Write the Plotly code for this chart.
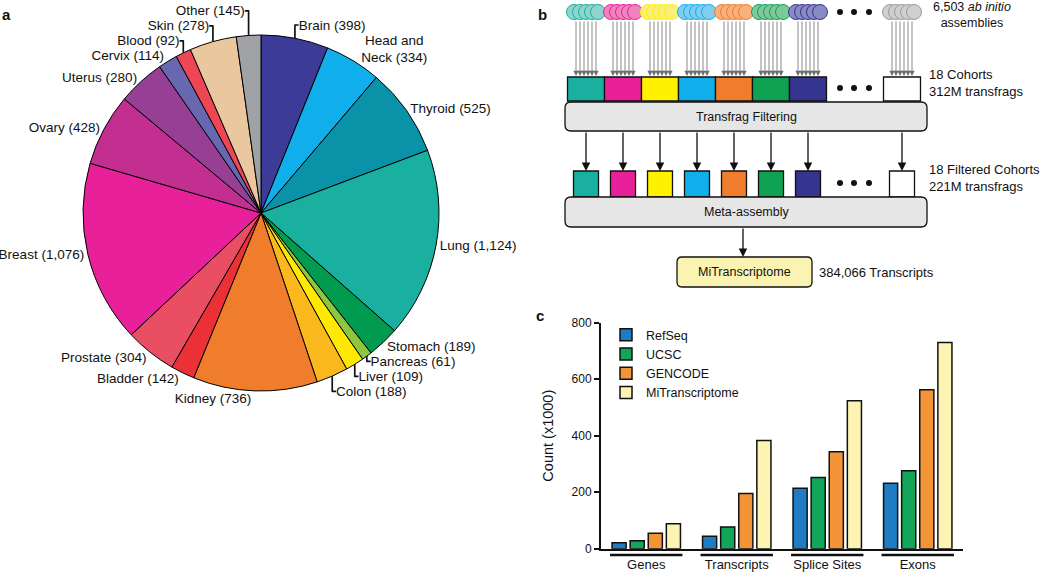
import plotly.graph_objects as go

W, H = 1050, 572
FONT = "Liberation Sans, Arial, sans-serif"

# ---- panel a: assemblies per tissue ----
tissues = ['Brain', 'Head and<br>Neck', 'Thyroid', 'Lung', 'Stomach', 'Pancreas', 'Liver',
           'Colon', 'Kidney', 'Bladder', 'Prostate', 'Breast', 'Ovary', 'Uterus', 'Cervix',
           'Blood', 'Skin', 'Other']
tissue_counts = [398, 334, 525, 1124, 189, 61, 109, 188, 736, 142, 304, 1076, 428, 280, 114,
                 92, 278, 145]
tissue_colors = ['#3c3c98', '#10aeea', '#0a93a8', '#1ab0a0', '#009b4e', '#8dc63f', '#ffe900',
                 '#fbb81c', '#f07d2c', '#ec3136', '#ea4e63', '#e8219a', '#c22f90', '#963f95',
                 '#6868b0', '#ee4654', '#ebc79f', '#a0a2a5']

# ---- panel b: cohort colours ----
cohort_colors = ['#1ab0a0', '#e8219a', '#fff100', '#10aeea', '#f07d2c', '#0fa253', '#35358f']
cohort_circle = ['#8fd5cb', '#ee83bd', '#f9f07a', '#7fcdf0', '#f7b07e', '#7fc89c', '#8a8ac2']

# ---- panel c: annotation counts (x1000) ----
categories = ['Genes', 'Transcripts', 'Splice Sites', 'Exons']
refseq = [21, 44, 214, 232]
ucsc = [28, 77, 252, 276]
gencode = [55, 195, 343, 563]
mitranscriptome = [88, 383, 524, 730]
bar_series = [('RefSeq', refseq, '#1e7cc4'), ('UCSC', ucsc, '#13a55a'),
              ('GENCODE', gencode, '#f39437'), ('MiTranscriptome', mitranscriptome, '#fdf4b4')]


def px(x):
    return x / W


def py(y):
    return 1 - y / H


fig = go.Figure()

# pie (centre ~ (261, 213), radius ~178 px)
cx, cy, r = 261, 213, 178
fig.add_trace(go.Pie(
    labels=tissues, values=tissue_counts,
    text=[f"{t} ({c:,})" for t, c in zip(tissues, tissue_counts)],
    textinfo='text', textposition='outside', sort=False, direction='clockwise', rotation=0,
    marker=dict(colors=tissue_colors, line=dict(color='black', width=1)),
    outsidetextfont=dict(family=FONT, size=13.5, color='#111'),
    domain=dict(x=[px(cx - r), px(cx + r)], y=[py(cy + r), py(cy - r)]),
    showlegend=False, hoverinfo='label+value',
))

# bars
for name, vals, col in bar_series:
    fig.add_trace(go.Bar(
        x=categories, y=vals, name=name,
        marker=dict(color=col, line=dict(color='#111', width=1.5)),
    ))

shapes = []
annotations = []

# category underlines
for i in range(len(categories)):
    shapes.append(dict(type='line', xref='x', yref='paper', x0=i - 0.4, x1=i + 0.4,
                       y0=py(555), y1=py(555), line=dict(color='#111', width=2.5)))

# ---- panel b diagram ----
centers = [586 + 37 * i for i in range(len(cohort_colors))]
white_c = 902


def rrect(x0, y0, x1, y1, rad):
    pts = [('M', x0 + rad, y0), ('L', x1 - rad, y0), ('Q', x1, y0, x1, y0 + rad),
           ('L', x1, y1 - rad), ('Q', x1, y1, x1 - rad, y1), ('L', x0 + rad, y1),
           ('Q', x0, y1, x0, y1 - rad), ('L', x0, y0 + rad), ('Q', x0, y0, x0 + rad, y0)]
    out = ''
    for p in pts:
        coords = p[1:]
        seg = ' '.join(f"{px(coords[k]):.5f},{py(coords[k + 1]):.5f}" for k in range(0, len(coords), 2))
        out += f"{p[0]}{seg} "
    return out + 'Z'


def circle(x, y, rad, fill, line, lw=1):
    shapes.append(dict(type='circle', xref='paper', yref='paper',
                       x0=px(x - rad), x1=px(x + rad), y0=py(y + rad), y1=py(y - rad),
                       fillcolor=fill, line=dict(color=line, width=lw)))


def rect(x0, y0, x1, y1, fill, lw=1.3):
    shapes.append(dict(type='rect', xref='paper', yref='paper', x0=px(x0), x1=px(x1),
                       y0=py(y1), y1=py(y0), fillcolor=fill, line=dict(color='#111', width=lw)))


def arrow(x, y_from, y_to, color, width, size):
    # tail sits above the head, so ay is negative
    annotations.append(dict(x=px(x), y=py(y_to), xref='paper', yref='paper', ax=0,
                            ay=y_from - y_to, axref='pixel', ayref='pixel', text='',
                            showarrow=True, arrowhead=2, arrowsize=size, arrowwidth=width,
                            arrowcolor=color, standoff=0))


groups = list(zip(centers, cohort_circle, cohort_colors)) + [(white_c, '#cfcfcf', '#9a9a9a')]
for c, fill, line in groups:
    for k in range(5):
        circle(c - 12 + 6 * k, 12, 7.5, fill, line, 1)
    for k in range(6):
        arrow(c - 10 + 4 * k, 20, 76, '#6d6d6d', 0.8, 1.3)

for c, col in zip(centers, cohort_colors):
    rect(c - 18.5, 77, c + 18.5, 101, col)
rect(white_c - 18.5, 77, white_c + 18.5, 101, 'white')

for yy in (12, 88, 183):
    for xx in (840, 854, 869):
        circle(xx, yy, 3, '#111', '#111', 0)

shapes.append(dict(type='path', xref='paper', yref='paper', path=rrect(565, 102, 927, 131, 6),
                   fillcolor='#e6e6e6', line=dict(color='#111', width=1.3)))
for c in centers + [white_c]:
    arrow(c, 131, 171, '#111', 1.3, 1.3)
for c, col in zip(centers, cohort_colors):
    rect(c - 12.5, 171, c + 12.5, 197, col)
rect(white_c - 12.5, 171, white_c + 12.5, 197, 'white')

shapes.append(dict(type='path', xref='paper', yref='paper', path=rrect(565, 197, 927, 227, 6),
                   fillcolor='#e6e6e6', line=dict(color='#111', width=1.3)))
arrow(743, 227, 257, '#111', 1.3, 1.3)
shapes.append(dict(type='path', xref='paper', yref='paper', path=rrect(677, 257, 812, 287, 5),
                   fillcolor='#fbf3b2', line=dict(color='#111', width=1.3)))


def label(x, y, text, size=12.5, anchor='left'):
    annotations.append(dict(x=px(x), y=py(y), xref='paper', yref='paper', text=text,
                            showarrow=False, xanchor=anchor, yanchor='middle', align=anchor,
                            borderpad=0, font=dict(family=FONT, size=size, color='#111')))


label(972, 15.5, '6,503 <i>ab initio</i><br>assemblies', 12.5, 'center')
label(928, 83, '18 Cohorts<br>312M transfrags', 13)
label(746, 117, 'Transfrag Filtering', 12.5, 'center')
label(928, 178, '18 Filtered Cohorts<br>221M transfrags', 13)
label(746, 212, 'Meta-assembly', 12.5, 'center')
label(744, 272, 'MiTranscriptome', 12.5, 'center')
label(818, 272, '384,066 Transcripts', 13)

label(1, 14, '<b>a</b>', 15)
label(537, 14, '<b>b</b>', 15)
label(535, 315, '<b>c</b>', 15)

fig.update_layout(
    width=W, height=H, margin=dict(l=0, r=0, t=0, b=0, autoexpand=False),
    paper_bgcolor='white', plot_bgcolor='rgba(0,0,0,0)',
    font=dict(family=FONT, size=12, color='#111'),
    barmode='group', bargap=0.2, bargroupgap=0.22,
    shapes=shapes, annotations=annotations,
    legend=dict(x=px(606), y=py(320), xanchor='left', yanchor='top',
                bgcolor='rgba(0,0,0,0)', font=dict(family=FONT, size=12.5), tracegroupgap=0),
    xaxis=dict(domain=[px(601), px(963)], range=[-0.5, 3.5], showline=True, linecolor='#111',
               linewidth=2, ticks='outside', ticklen=3, tickcolor='rgba(0,0,0,0)',
               showgrid=False, zeroline=False, automargin=False, tickfont=dict(size=13)),
    yaxis=dict(domain=[py(548.7), py(322.7)], range=[0, 800], tickvals=[0, 200, 400, 600, 800],
               showline=True, linecolor='#111', linewidth=2, ticks='outside', ticklen=5,
               tickwidth=2, tickcolor='#111', showgrid=False, zeroline=False, automargin=False,
               title=dict(text='Count (x1000)', font=dict(size=14.5), standoff=14),
               tickfont=dict(size=12)),
)

# the page's default 8px body margin would push the figure off the window
fig.write_html("out.html", config={'displayModeBar': False},
               post_script="document.body.style.margin = '0px';")
